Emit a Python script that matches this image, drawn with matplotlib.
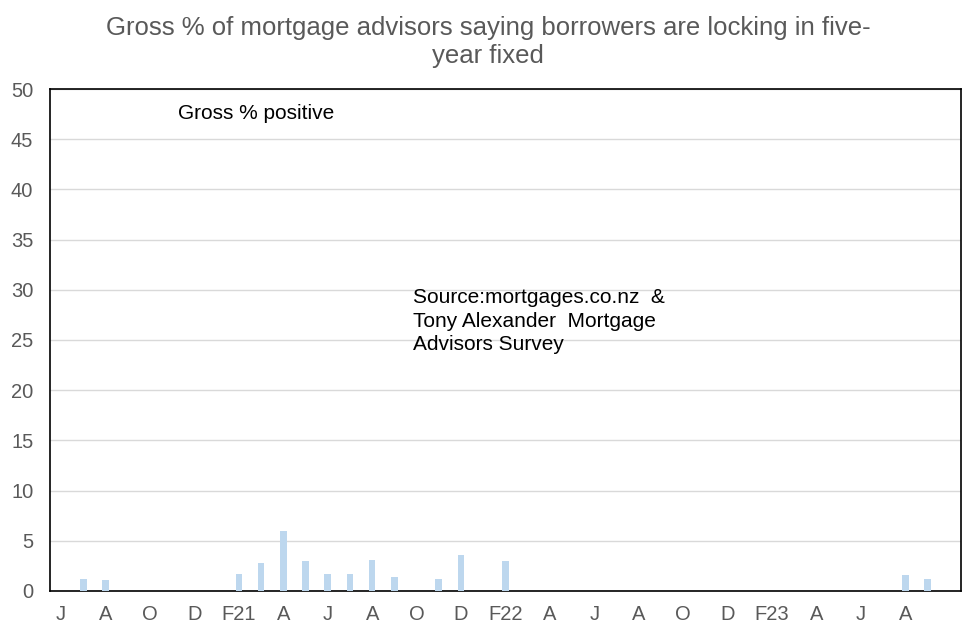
import numpy as np
import matplotlib
matplotlib.use('Agg')
import matplotlib.pyplot as plt

plt.rcParams['font.family'] = ['Liberation Sans', 'DejaVu Sans']

# monthly, Jun 2020 .. Oct 2023
months = ['J', '', 'A', '', 'O', '', 'D', '', 'F21', '', 'A', '', 'J', '', 'A', '', 'O', '', 'D', '',
          'F22', '', 'A', '', 'J', '', 'A', '', 'O', '', 'D', '', 'F23', '', 'A', '', 'J', '', 'A', '', '']
gross_pos = [0, 1.2, 1.1, 0, 0, 0, 0, 0, 1.7, 2.8, 6.0, 3.0, 1.7, 1.7, 3.1, 1.4, 0, 1.2, 3.6, 0,
             3.0, 0, 0, 0, 0, 0, 0, 0, 0, 0, 0, 0, 0, 0, 0, 0, 0, 0, 1.6, 1.2, 0]

grey = '#595959'
fig = plt.figure(figsize=(9.76, 6.38), dpi=100)
ax = fig.add_axes([0.0512, 0.0737, 0.9334, 0.7868])

x = np.arange(len(gross_pos))
ax.bar(x, gross_pos, width=0.3, color='#bdd7ee', zorder=3)

ax.set_xlim(-0.5, len(gross_pos) - 0.5)
ax.set_ylim(0, 50)
ax.set_yticks(np.arange(0, 51, 5))
ax.set_xticks(x)
ax.set_xticklabels(months)
ax.tick_params(axis='x', length=0, labelsize=14.5, colors=grey, pad=10)
ax.tick_params(axis='y', length=0, labelsize=14.5, colors=grey, pad=12)
ax.grid(axis='y', color='#d9d9d9', linewidth=1, zorder=0)
for s in ax.spines.values():
    s.set_color('black')
    s.set_linewidth(1.2)

fig.text(0.5, 0.975, 'Gross % of mortgage advisors saying borrowers are locking in five-\nyear fixed',
         ha='center', va='top', fontsize=18.5, color=grey, linespacing=1.22)
ax.text(0.141, 0.952, 'Gross % positive', transform=ax.transAxes, fontsize=15,
        ha='left', va='center', color='black')
ax.text(0.399, 0.603, 'Source:mortgages.co.nz  &\nTony Alexander  Mortgage\nAdvisors Survey',
        transform=ax.transAxes, fontsize=15, ha='left', va='top', color='black', linespacing=1.3)

fig.savefig('out.png', dpi=100)
